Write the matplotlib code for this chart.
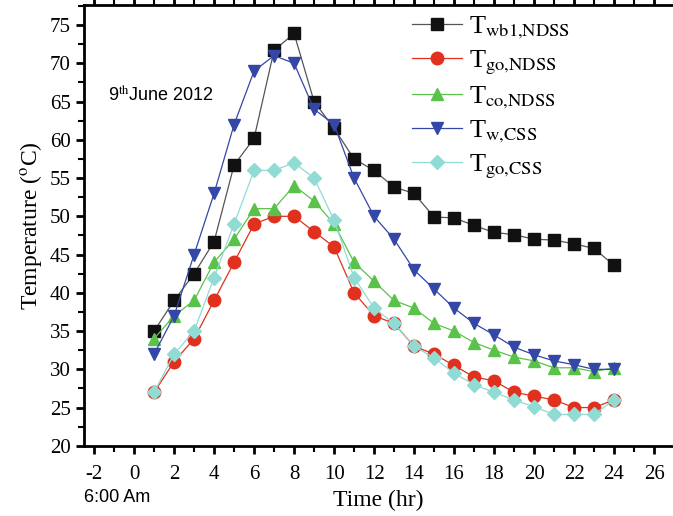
import matplotlib
matplotlib.use("Agg")
import matplotlib.pyplot as plt
from matplotlib.ticker import MultipleLocator

plt.rcParams['font.family'] = ['Liberation Serif', 'DejaVu Serif']
plt.rcParams['mathtext.fontset'] = 'stix'
plt.rcParams['axes.unicode_minus'] = False

# hours after 6:00 am
hours = list(range(1, 25))

t_wb1_ndss = [35, 39, 42.5, 46.7, 56.7, 60.2, 71.7, 73.9, 65, 61.5, 57.5, 56,
              53.8, 53, 49.9, 49.8, 48.8, 47.9, 47.6, 47, 46.9, 46.4, 45.8, 43.6]
t_go_ndss = [27, 31, 34, 39, 44, 49, 50, 50, 48, 46, 40, 37,
             36, 33, 32, 30.5, 29, 28.5, 27, 26.5, 26, 25, 25, 26]
t_co_ndss = [34, 37, 39, 44, 47, 51, 51, 54, 52, 49, 44, 41.5,
             39, 38, 36, 35, 33.5, 32.5, 31.6, 31.1, 30.2, 30.2, 29.7, 30.2]
t_w_css = [32, 37, 45, 53, 62, 69, 71, 70, 64, 62, 55, 50,
           47, 43, 40.5, 38, 36, 34.5, 32.9, 31.9, 31.1, 30.6, 30, 30]
t_go_css = [27, 32, 35, 42, 49, 56, 56, 57, 55, 49.5, 42, 38,
            36, 33, 31.5, 29.5, 28, 27, 26, 25.1, 24.1, 24.1, 24.1, 26]

series = [
    (t_wb1_ndss, r'T$_{\mathrm{wb1{,}NDSS}}$', '#111111', 's', '#555555'),
    (t_go_ndss, r'T$_{\mathrm{go{,}NDSS}}$', '#e0301e', 'o', '#e0301e'),
    (t_co_ndss, r'T$_{\mathrm{co{,}NDSS}}$', '#5ac24a', '^', '#5ac24a'),
    (t_w_css, r'T$_{\mathrm{w{,}CSS}}$', '#3446a6', 'v', '#3446a6'),
    (t_go_css, r'T$_{\mathrm{go{,}CSS}}$', '#90dcd4', 'D', '#90dcd4'),
]

fig = plt.figure(figsize=(6.73, 5.16), dpi=100)
ax = fig.add_axes([0.125, 0.136, 0.875, 0.854])

for vals, label, col, mk, lcol in series:
    ms = 7.5 if mk == 'D' else 9
    ax.plot(hours, vals, color=lcol, lw=0.9, marker=mk, markersize=ms,
            markerfacecolor=col, markeredgecolor=col, label=label)

ax.set_xlim(-2.5, 26.95)
ax.set_ylim(20, 77.6)
ax.xaxis.set_major_locator(MultipleLocator(2))
ax.xaxis.set_minor_locator(MultipleLocator(1))
ax.yaxis.set_major_locator(MultipleLocator(5))
ax.yaxis.set_minor_locator(MultipleLocator(2.5))
ax.tick_params(which='major', direction='out', length=6, width=2, labelsize=15)
ax.tick_params(which='minor', direction='out', length=4, width=1.5)
ax.tick_params(axis='x', which='both', top=True)
ax.tick_params(axis='x', which='major', pad=8)
for side in ['left', 'bottom', 'top']:
    ax.spines[side].set_linewidth(2)
ax.spines['right'].set_visible(False)

ax.set_xlabel('Time (hr)', fontsize=17, labelpad=4)
ax.set_ylabel(r'Temperature ($^{\mathrm{o}}$C)', fontsize=17, labelpad=4)

ax.text(0.04, 0.795, r'9$^{\mathrm{th}}$June 2012', transform=ax.transAxes,
        fontsize=13, family='Liberation Sans', va='center')
fig.text(0.125, 0.035, '6:00 Am', fontsize=13, family='Liberation Sans', va='center')

leg = ax.legend(loc='upper left', bbox_to_anchor=(0.612, 0.972),
                bbox_transform=fig.transFigure, frameon=False,
                fontsize=19, handlelength=1.9, labelspacing=0.28,
                handletextpad=0.25, borderpad=0, borderaxespad=0)

fig.savefig('out.png', dpi=100)
